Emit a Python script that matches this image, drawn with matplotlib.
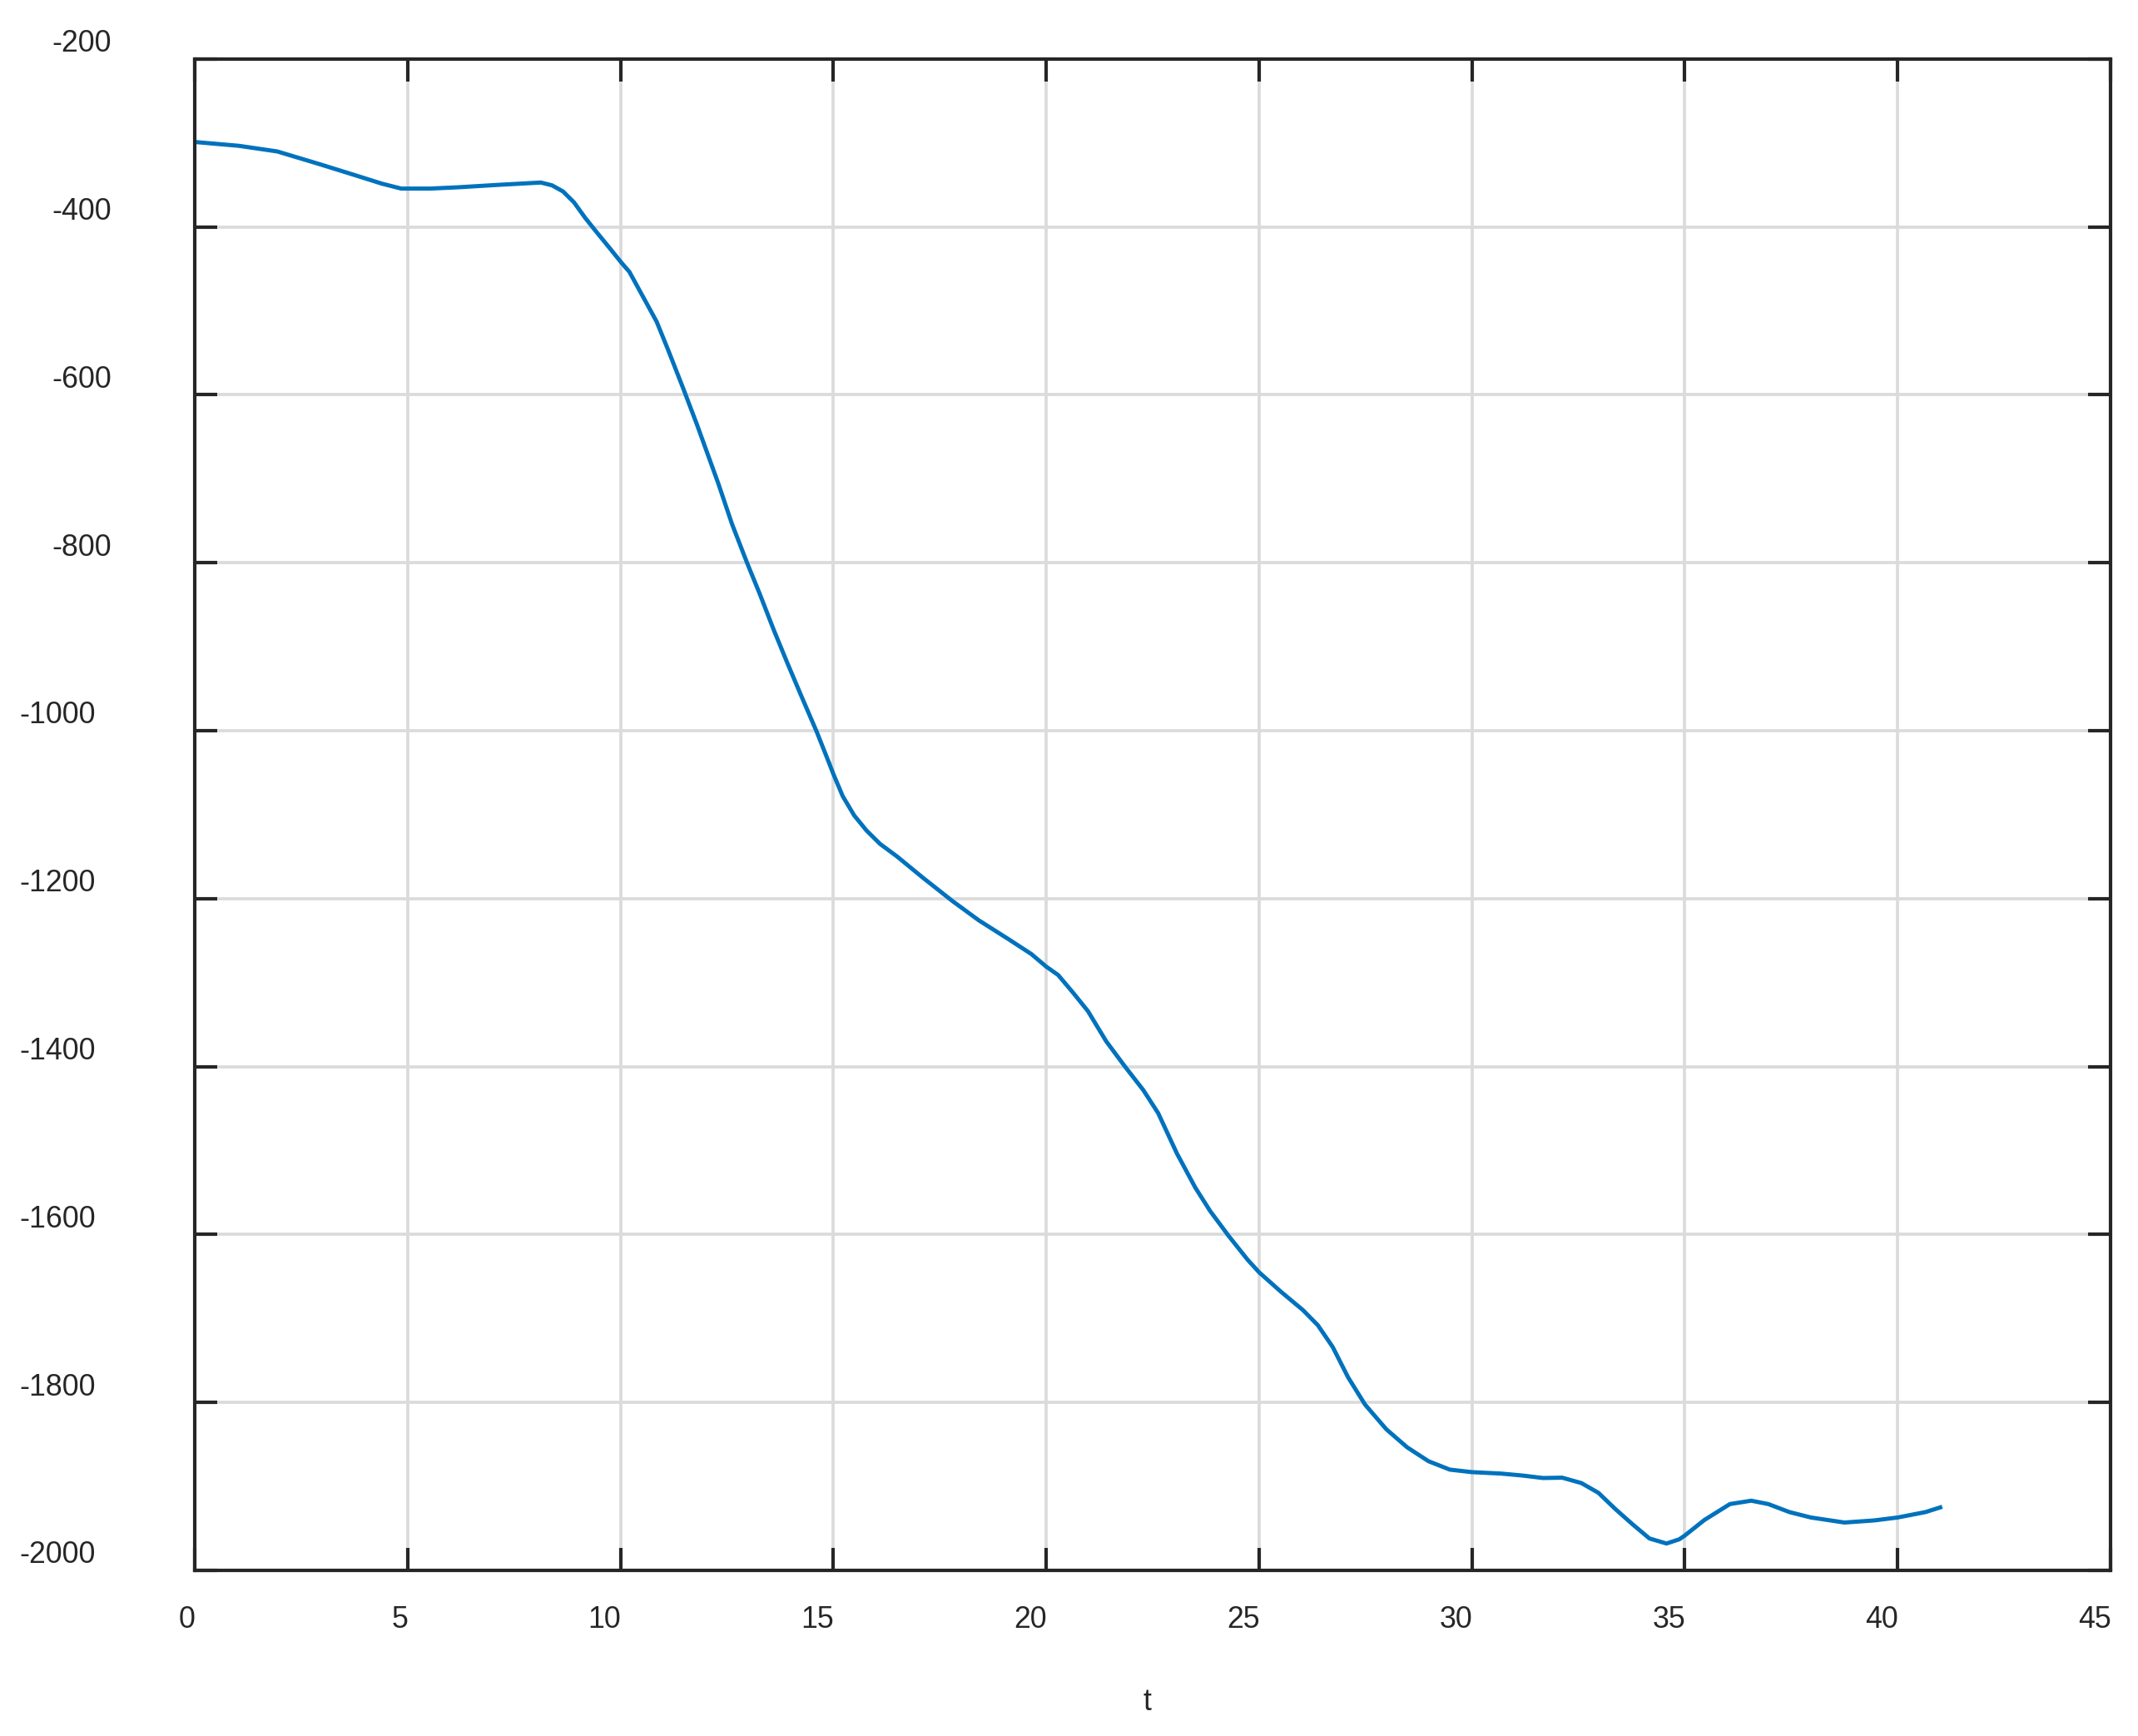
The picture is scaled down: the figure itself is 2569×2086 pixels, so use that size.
import numpy as np
import matplotlib
matplotlib.use("Agg")
import matplotlib.pyplot as plt
from matplotlib.transforms import ScaledTranslation

# values
t = [0.0, 1.04, 1.94, 2.95, 3.73, 4.4, 4.85, 5.53, 6.17, 7.15, 8.13, 8.39,
     8.65, 8.91, 9.17, 9.43, 9.75, 10.01, 10.21, 10.44, 10.85, 11.13, 11.47,
     11.8, 12.3, 12.62, 12.98, 13.27, 13.6, 13.92, 14.25, 14.61, 14.9, 15.0,
     15.22, 15.49, 15.78, 16.1, 16.5, 17.1, 17.8, 18.42, 19.12, 19.65, 20.0,
     20.28, 20.63, 20.98, 21.41, 21.85, 22.28, 22.63, 23.07, 23.5, 23.85,
     24.29, 24.73, 25.0, 25.51, 26.03, 26.38, 26.73, 27.09, 27.49, 27.99,
     28.48, 28.98, 29.48, 30.0, 30.68, 31.18, 31.67, 32.12, 32.57, 32.97,
     33.37, 33.77, 34.17, 34.57, 34.87, 35.0, 35.46, 36.06, 36.56, 36.96,
     37.46, 37.96, 38.75, 39.45, 40.0, 40.65, 41.0]
y = [-299, -303.6, -310.3, -325.7, -338, -348.7, -354.5, -354.5, -353, -350,
     -347.3, -350.6, -357.9, -371, -389.3, -405.8, -425.6, -442, -453.7, -475,
     -513, -548, -592, -636, -706, -754, -801, -837, -880, -919.5, -959,
     -1001.4, -1038.5, -1051.6, -1078, -1101, -1119, -1135, -1150, -1175,
     -1203, -1226, -1248.5, -1266, -1281, -1291, -1312, -1334, -1370, -1400,
     -1428, -1455.5, -1503.5, -1544, -1572, -1602, -1630, -1645, -1668, -1690,
     -1708, -1734, -1770, -1802.6, -1832, -1853.5, -1870, -1880, -1883,
     -1884.7, -1887, -1890, -1889.6, -1896, -1907.6, -1927, -1945, -1962,
     -1968, -1963, -1958.5, -1940, -1921, -1917, -1921, -1930.6, -1937, -1943,
     -1940.5, -1937, -1930.6, -1925]

x_ticks = list(range(0, 46, 5))
y_ticks = list(range(-2000, -199, 200))

plt.rcParams['font.family'] = ['Liberation Sans', 'DejaVu Sans']
plt.rcParams['axes.unicode_minus'] = False

dark = '#262626'
W, H = 2569, 2086
DPI = 300
px = 72 / DPI  # one output pixel in points
fig = plt.figure(figsize=(W / DPI, H / DPI), dpi=DPI)
ax = fig.add_axes([234 / W, 1 - 1887 / H, (2536 - 234) / W, (1887 - 70.7) / H])

ax.plot(t, y, color='#0072BD', lw=1.2, zorder=3)

ax.set_xlim(0, 45)
ax.set_ylim(-2000, -200)
ax.set_xticks(x_ticks)
ax.set_yticks(y_ticks)
ax.grid(True, color='#dbdbdb', lw=0.9, zorder=0)
ax.set_axisbelow(True)

for s in ax.spines.values():
    s.set_linewidth(1.0)
    s.set_color(dark)
    s.set_zorder(4)

ax.tick_params(direction='in', length=6.5, width=1.0, color=dark,
               top=True, right=True, labelsize=8.6, labelcolor=dark)
ax.tick_params(axis='x', pad=10)
ax.tick_params(axis='y', pad=0)

# matlab export: labels sit off their ticks by a char-count dependent amount
for lab in ax.get_yticklabels():
    n = len(lab.get_text())
    lab.set_ha('left')
    dx = (-16 - n * 39) * px
    lab.set_transform(lab.get_transform() + ScaledTranslation(dx / 72, 22 * px / 72, fig.dpi_scale_trans))
for lab in ax.get_xticklabels():
    n = len(lab.get_text())
    lab.set_ha('left')
    dx = -n * 19.5 * px
    lab.set_transform(lab.get_transform() + ScaledTranslation(dx / 72, 0, fig.dpi_scale_trans))

ax.set_xlabel('t', fontsize=8.6, color=dark)
ax.xaxis.set_label_coords(0.497, -0.0925)
ax.xaxis.label.set_va('baseline')

fig.savefig('out.png', dpi=DPI, facecolor='white')
